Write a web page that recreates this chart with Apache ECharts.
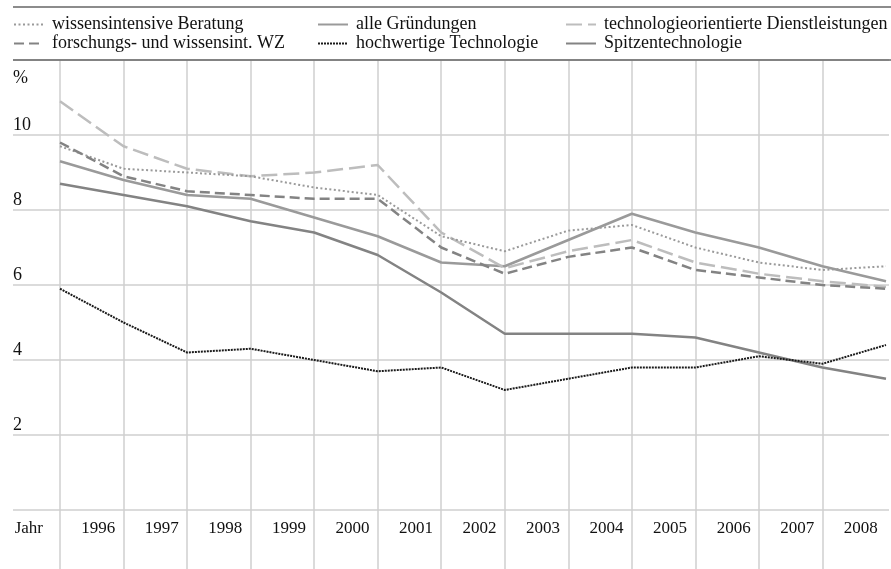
<!DOCTYPE html>
<html>
<head>
<meta charset="utf-8">
<script src="https://cdn.jsdelivr.net/npm/echarts@6/dist/echarts.min.js"></script>
<style>
  html, body { margin: 0; padding: 0; background: #fff; }
  #chart { width: 891px; height: 569px; }
</style>
</head>
<body>
<div id="chart"></div>
<script>
// Beschriftung der Spalten (zwischen den Stützstellen)
const jahre = ['1996', '1997', '1998', '1999', '2000', '2001', '2002', '2003', '2004', '2005', '2006', '2007', '2008'];
// Stützstellen der Linien (auf den senkrechten Linien)
const punkte = ['1996', '1997', '1998', '1999', '2000', '2001', '2002', '2003', '2004', '2005', '2006', '2007', '2008', '2009'];

// Anteile in %
const beratung   = [9.7, 9.1, 9.0, 8.9, 8.6, 8.4, 7.3, 6.9, 7.45, 7.6, 7.0, 6.6, 6.4, 6.5];
const alle       = [9.3, 8.8, 8.4, 8.3, 7.8, 7.3, 6.6, 6.5, 7.2, 7.9, 7.4, 7.0, 6.5, 6.1];
const techDienst = [10.9, 9.7, 9.1, 8.9, 9.0, 9.2, 7.4, 6.45, 6.9, 7.2, 6.6, 6.3, 6.1, 5.95];
const fuwWZ      = [9.8, 8.9, 8.5, 8.4, 8.3, 8.3, 7.0, 6.3, 6.75, 7.0, 6.4, 6.2, 6.0, 5.9];
const hochwertig = [5.9, 5.0, 4.2, 4.3, 4.0, 3.7, 3.8, 3.2, 3.5, 3.8, 3.8, 4.1, 3.9, 4.4];
const spitze     = [8.7, 8.4, 8.1, 7.7, 7.4, 6.8, 5.8, 4.7, 4.7, 4.7, 4.6, 4.2, 3.8, 3.5];

const yMin = 0, yMax = 12, yStep = 2;

const FONT = 'Liberation Serif';
const gridColor = '#cfcfcf';

let legendText = {
  fontFamily: FONT,
  fontSize: 18,
  lineHeight: 19,
  color: '#111',
  padding: [0, 0, 0, 3]
};

function legend(left, names) {
  return {
    left: left,
    top: 15,
    padding: 0,
    orient: 'vertical',
    itemWidth: 30,
    itemHeight: 10,
    itemGap: 0,
    selectedMode: false,
    data: names,
    itemStyle: { opacity: 0 },
    textStyle: legendText
  };
}

function linie(name, data, color, width, dash) {
  return {
    name: name,
    type: 'line',
    xAxisIndex: 1,
    yAxisIndex: 1,
    data: data,
    symbol: 'none',
    silent: true,
    lineStyle: {
      color: color,
      width: width,
      type: dash
    },
    itemStyle: { color: color }
  };
}

let options = {
  animation: false,
  backgroundColor: '#fff',
  textStyle: { fontFamily: FONT },
  legend: [
    legend(13, ['wissensintensive Beratung', 'forschungs- und wissensint. WZ']),
    legend(317, ['alle Gründungen', 'hochwertige Technologie']),
    legend(565, ['technologieorientierte Dienstleistungen', 'Spitzentechnologie'])
  ],
  grid: [
    { left: 13, right: 2, top: 60, bottom: 59 },
    { left: 60, right: 5, top: 60, bottom: 59 }
  ],
  xAxis: [
    { type: 'value', gridIndex: 0, min: 0, max: 1, show: false },
    {
      type: 'category',
      gridIndex: 1,
      data: punkte,
      boundaryGap: false,
      position: 'bottom',
      axisLine: { show: false },
      axisLabel: { show: false },
      axisTick: {
        show: true,
        length: 59,
        interval: (i) => i < punkte.length - 1,
        lineStyle: { color: gridColor, width: 1.5 }
      },
      splitLine: {
        show: true,
        interval: (i) => i < punkte.length - 1,
        lineStyle: { color: gridColor, width: 1.5 }
      }
    },
    {
      type: 'category',
      gridIndex: 1,
      data: jahre,
      boundaryGap: true,
      position: 'bottom',
      axisLine: { show: false },
      axisTick: { show: false },
      splitLine: { show: false },
      axisLabel: {
        interval: 0,
        margin: 10,
        fontFamily: FONT,
        fontSize: 17,
        color: '#111',
        padding: [0, 0, 0, 13]
      },
      name: 'Jahr',
      nameLocation: 'start',
      nameGap: 17,
      nameTextStyle: {
        fontFamily: FONT,
        fontSize: 17,
        color: '#111',
        align: 'right',
        verticalAlign: 'top',
        padding: [10, 0, 0, 0]
      }
    }
  ],
  yAxis: [
    {
      type: 'value',
      gridIndex: 0,
      min: yMin,
      max: yMax,
      interval: yStep,
      axisLine: { show: false },
      axisTick: { show: false },
      splitLine: { show: true, lineStyle: { color: gridColor, width: 1.5 } },
      axisLabel: {
        inside: true,
        margin: 0,
        align: 'left',
        verticalAlign: 'bottom',
        padding: [0, 0, 1, 0],
        fontFamily: FONT,
        fontSize: 18,
        color: '#111',
        formatter: (v) => (v === yMin || v === yMax) ? '' : String(v)
      },
      name: '%',
      nameLocation: 'end',
      nameGap: -18,
      nameTextStyle: {
        fontFamily: FONT,
        fontSize: 18,
        color: '#111',
        align: 'left',
        verticalAlign: 'middle'
      }
    },
    { type: 'value', gridIndex: 1, min: yMin, max: yMax, interval: yStep, show: false }
  ],
  graphic: [
    { type: 'line', z: 100, shape: { x1: 13, y1: 7, x2: 891, y2: 7 }, style: { stroke: '#666', lineWidth: 1.5 } },
    { type: 'line', z: 100, shape: { x1: 13, y1: 60, x2: 891, y2: 60 }, style: { stroke: '#666', lineWidth: 1.5 } }
  ],
  series: [
    linie('alle Gründungen', alle, '#9a9a9a', 2.5, 'solid'),
    linie('Spitzentechnologie', spitze, '#838383', 2.5, 'solid'),
    linie('technologieorientierte Dienstleistungen', techDienst, '#bdbdbd', 2.5, [16, 6]),
    linie('wissensintensive Beratung', beratung, '#9a9a9a', 2, [2, 2.5]),
    linie('forschungs- und wissensint. WZ', fuwWZ, '#838383', 2.5, [10, 5]),
    linie('hochwertige Technologie', hochwertig, '#1a1a1a', 2, [2, 1])
  ]
};

let myChart = echarts.init(document.getElementById('chart'));
myChart.setOption(options);
</script>
</body>
</html>
